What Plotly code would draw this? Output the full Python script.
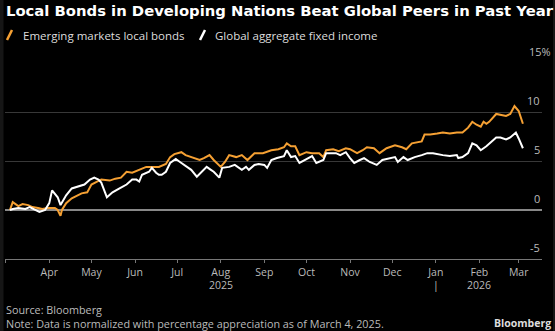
import plotly.graph_objects as go

em_dates = ["2025-03-04","2025-03-06","2025-03-10","2025-03-13","2025-03-17","2025-03-20","2025-03-24","2025-03-27","2025-03-31","2025-04-05","2025-04-07","2025-04-09","2025-04-10","2025-04-13","2025-04-17","2025-04-21","2025-04-24","2025-04-28","2025-05-01","2025-05-05","2025-05-08","2025-05-14","2025-05-18","2025-05-22","2025-05-26","2025-05-30","2025-06-04","2025-06-09","2025-06-13","2025-06-18","2025-06-23","2025-06-26","2025-06-29","2025-07-04","2025-07-07","2025-07-11","2025-07-17","2025-07-20","2025-07-24","2025-07-27","2025-08-01","2025-08-04","2025-08-07","2025-08-12","2025-08-16","2025-08-20","2025-08-25","2025-08-31","2025-09-02","2025-09-06","2025-09-11","2025-09-15","2025-09-17","2025-09-20","2025-09-23","2025-09-26","2025-10-01","2025-10-05","2025-10-10","2025-10-13","2025-10-15","2025-10-20","2025-10-24","2025-10-29","2025-11-01","2025-11-06","2025-11-10","2025-11-13","2025-11-18","2025-11-22","2025-11-27","2025-12-03","2025-12-08","2025-12-11","2025-12-15","2025-12-22","2025-12-24","2025-12-28","2026-01-02","2026-01-06","2026-01-11","2026-01-16","2026-01-20","2026-01-24","2026-01-27","2026-01-30","2026-02-02","2026-02-04","2026-02-06","2026-02-08","2026-02-13","2026-02-16","2026-02-20","2026-02-23","2026-02-26","2026-03-01","2026-03-04"]
em_values = [0.0,0.8,0.4,0.6,0.5,0.3,0.2,0.1,0.2,0.2,0.0,-0.6,0.0,0.7,1.2,1.5,1.7,1.8,2.6,2.9,3.1,3.0,3.2,3.3,3.9,3.8,4.1,4.4,4.4,4.4,4.7,5.4,5.7,5.9,5.6,5.4,5.1,5.3,5.6,5.1,4.4,4.9,5.6,5.4,5.6,5.1,5.8,5.8,5.9,6.1,6.2,6.4,6.8,6.5,6.5,5.6,5.9,5.8,5.8,5.4,6.1,6.2,6.0,6.3,6.2,5.8,6.1,6.4,6.3,5.8,6.3,6.6,6.4,6.2,6.8,7.0,7.7,7.7,7.8,7.9,7.8,7.9,7.9,8.4,9.0,8.7,8.5,9.0,8.8,9.0,9.8,9.7,9.6,9.8,10.6,10.1,8.8]

gl_dates = ["2025-03-04","2025-03-06","2025-03-10","2025-03-15","2025-03-18","2025-03-22","2025-03-25","2025-03-29","2025-04-01","2025-04-03","2025-04-07","2025-04-09","2025-04-11","2025-04-13","2025-04-17","2025-04-21","2025-04-26","2025-04-30","2025-05-03","2025-05-06","2025-05-08","2025-05-12","2025-05-16","2025-05-21","2025-05-26","2025-05-30","2025-06-02","2025-06-04","2025-06-06","2025-06-11","2025-06-13","2025-06-16","2025-06-18","2025-06-20","2025-06-23","2025-06-26","2025-06-30","2025-07-03","2025-07-06","2025-07-11","2025-07-15","2025-07-18","2025-07-22","2025-07-25","2025-07-27","2025-07-31","2025-08-02","2025-08-07","2025-08-11","2025-08-16","2025-08-19","2025-08-21","2025-08-25","2025-08-28","2025-09-01","2025-09-03","2025-09-06","2025-09-10","2025-09-15","2025-09-17","2025-09-20","2025-09-23","2025-09-26","2025-10-01","2025-10-05","2025-10-08","2025-10-13","2025-10-15","2025-10-22","2025-10-25","2025-10-29","2025-11-01","2025-11-04","2025-11-08","2025-11-11","2025-11-15","2025-11-20","2025-11-24","2025-11-29","2025-12-03","2025-12-05","2025-12-09","2025-12-12","2025-12-17","2025-12-22","2025-12-26","2025-12-30","2026-01-02","2026-01-06","2026-01-11","2026-01-16","2026-01-17","2026-01-20","2026-01-24","2026-01-27","2026-01-30","2026-02-02","2026-02-06","2026-02-13","2026-02-16","2026-02-20","2026-02-23","2026-02-27","2026-03-01","2026-03-04"]
gl_values = [0.0,0.1,0.2,0.1,0.3,0.0,-0.2,0.0,0.7,2.0,1.3,0.5,1.0,1.5,2.2,2.4,2.6,3.1,3.3,3.1,2.8,1.3,1.8,2.2,2.6,3.1,3.1,2.9,3.6,3.9,4.3,3.8,3.6,3.6,3.9,4.8,5.2,4.9,4.6,4.1,3.4,3.8,4.4,4.1,3.9,3.3,4.3,4.4,4.6,4.1,4.4,4.1,4.6,4.7,4.6,4.3,5.1,5.3,5.5,6.1,5.4,5.5,4.8,5.2,5.5,4.8,5.1,5.8,5.8,5.6,5.9,5.3,4.8,5.1,5.3,4.9,4.6,5.1,5.3,5.4,4.9,5.4,5.1,5.4,5.6,5.8,5.8,5.7,5.6,5.5,5.6,5.3,5.4,5.8,6.8,6.6,6.1,6.5,7.4,7.4,7.2,7.4,7.9,7.3,6.3]

series_names = ["Emerging markets local bonds", "Global aggregate fixed income"]
series_colors = ["#F5A033", "#FFFFFF"]
y_ticks = [-5, 0, 5, 10, 15]
y_tick_text = ["-5", "0", "5", "10", "15%"]
year_labels = [("2025-08-01", "2025"), ("2026-01-01", "|"), ("2026-02-01", "2026")]

W, H = 555, 331
ML, MR, MT, MB = 5, 13, 63, 72
PW = W - ML - MR
PH = H - MT - MB
FONT = "Open Sans"

fig = go.Figure()
fig.add_trace(go.Scatter(x=em_dates, y=em_values, mode="lines", name=series_names[0],
                         line=dict(color=series_colors[0], width=2)))
fig.add_trace(go.Scatter(x=gl_dates, y=gl_values, mode="lines", name=series_names[1],
                         line=dict(color=series_colors[1], width=2)))

def px_x(p):
    return (p - ML) / PW

def px_y(p):
    return (H - MB - p) / PH

ann = []
ann.append(dict(text="<b>Local Bonds in Developing Nations Beat Global Peers in Past Year</b>",
                x=px_x(4), y=px_y(11), xref="paper", yref="paper", xanchor="left", yanchor="middle",
                showarrow=False, font=dict(family="DejaVu Sans", size=14.8, color="#FFFFFF")))
ann.append(dict(text=series_names[0], x=px_x(21), y=px_y(35), xref="paper", yref="paper",
                xanchor="left", yanchor="middle", showarrow=False,
                font=dict(family=FONT, size=11.5, color="#DDDDDD")))
ann.append(dict(text=series_names[1], x=px_x(213), y=px_y(35), xref="paper", yref="paper",
                xanchor="left", yanchor="middle", showarrow=False,
                font=dict(family=FONT, size=11.5, color="#DDDDDD")))
for v, t in zip(y_ticks, y_tick_text):
    ann.append(dict(text=t, x=1, y=v, xref="paper", yref="y", xanchor="right", yanchor="bottom",
                    xshift=(11 if t.endswith("%") else 0), yshift=2, showarrow=False,
                    font=dict(family=FONT, size=11, color="#BBBBBB")))
for d, t in year_labels:
    ann.append(dict(text=t, x=d, y=px_y(285), xref="x", yref="paper", xanchor="center", yanchor="middle",
                    showarrow=False, font=dict(family=FONT, size=10.5, color="#BBBBBB")))
ann.append(dict(text="Source: Bloomberg", x=px_x(4), y=px_y(309), xref="paper", yref="paper",
                xanchor="left", yanchor="middle", showarrow=False,
                font=dict(family=FONT, size=10.8, color="#BBBBBB")))
ann.append(dict(text="Note: Data is normalized with percentage appreciation as of March 4, 2025.",
                x=px_x(4), y=px_y(323), xref="paper", yref="paper",
                xanchor="left", yanchor="middle", showarrow=False,
                font=dict(family=FONT, size=10.8, color="#BBBBBB")))
ann.append(dict(text="<b>Bloomberg</b>", x=px_x(553), y=px_y(323), xref="paper", yref="paper",
                xanchor="right", yanchor="middle", showarrow=False,
                font=dict(family=FONT, size=10.5, color="#DDDDDD")))

shapes = [
    dict(type="line", xref="paper", yref="paper", x0=px_x(7), x1=px_x(12), y0=px_y(40), y1=px_y(30),
         line=dict(color=series_colors[0], width=2.5)),
    dict(type="line", xref="paper", yref="paper", x0=px_x(200), x1=px_x(205), y0=px_y(40), y1=px_y(30),
         line=dict(color=series_colors[1], width=2.5)),
    dict(type="rect", xref="paper", yref="paper", x0=px_x(0), x1=px_x(3.5), y0=px_y(331), y1=px_y(0),
         fillcolor="#161616", line=dict(width=0), layer="below"),
    dict(type="rect", xref="paper", yref="paper", x0=px_x(553), x1=px_x(555), y0=px_y(331), y1=px_y(0),
         fillcolor="#161616", line=dict(width=0), layer="below"),
]

fig.update_layout(
    width=W, height=H, margin=dict(l=ML, r=MR, t=MT, b=MB),
    paper_bgcolor="#000000", plot_bgcolor="#000000",
    showlegend=False, annotations=ann, shapes=shapes,
    font=dict(family=FONT, color="#BBBBBB", size=11),
    xaxis=dict(type="date", range=["2025-02-28 12:00", "2026-03-17 14:00"],
               tick0="2025-04-01", dtick="M1", tickformat="%b",
               ticks="outside", ticklen=3, tickcolor="#777777", tickwidth=1,
               showline=True, linecolor="#777777", linewidth=1,
               showgrid=False, zeroline=False,
               tickfont=dict(family=FONT, size=10.5, color="#BBBBBB")),
    yaxis=dict(range=[-5, 15], tickvals=y_ticks, showticklabels=False,
               showgrid=True, gridcolor="#383838", gridwidth=1,
               zeroline=True, zerolinecolor="#888888", zerolinewidth=1.5,
               showline=False, fixedrange=True),
)

fig.write_html("out.html")
